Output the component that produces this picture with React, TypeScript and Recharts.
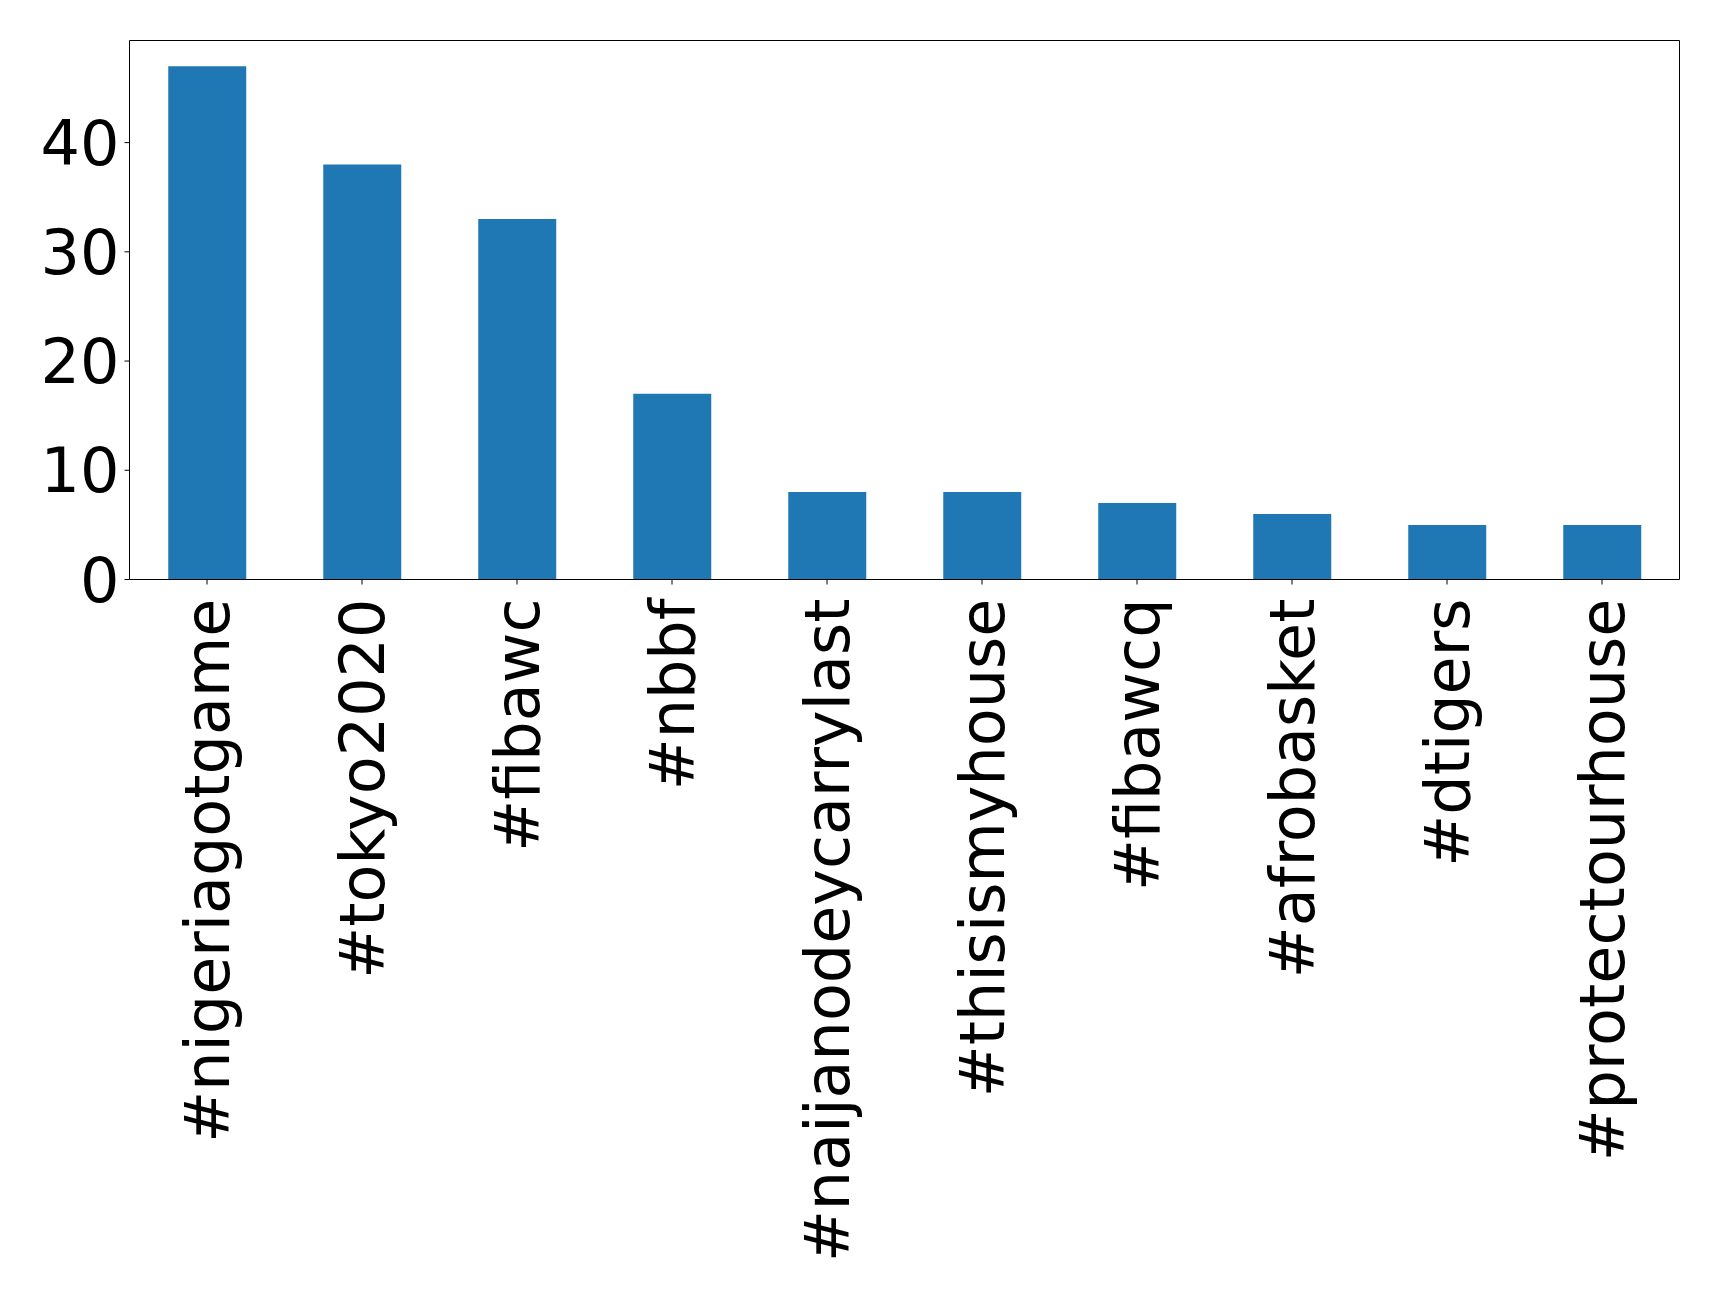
import React from "react";
import { Bar, BarChart, CartesianGrid, XAxis, YAxis } from "recharts";

const hashtags = [
  "#nigeriagotgame",
  "#tokyo2020",
  "#fibawc",
  "#nbbf",
  "#naijanodeycarrylast",
  "#thisismyhouse",
  "#fibawcq",
  "#afrobasket",
  "#dtigers",
  "#protectourhouse",
];
const counts = [47, 38, 33, 17, 8, 8, 7, 6, 5, 5];
const yTicks = [0, 10, 20, 30, 40];

const data = hashtags.map((tag, i) => ({ tag, count: counts[i] }));

const FONT = "DejaVu Sans";

const RotatedTick = ({ x, y, payload }: any) => (
  <text
    transform={`translate(${x}, ${y}) rotate(-90)`}
    textAnchor="end"
    dy={22}
    fontFamily={FONT}
    fontSize={62}
    fill="#000"
  >
    {payload.value}
  </text>
);

const App = () => {
  return (
    <div style={{ position: "absolute", left: 0, top: 0, background: "#fff" }}>
      <BarChart
        width={1719}
        height={1297}
        data={data}
        margin={{ top: 40.5, right: 39.5, left: 0, bottom: 0 }}
        barCategoryGap="25%"
      >
        <CartesianGrid
          stroke="#000"
          strokeWidth={1}
          horizontalCoordinatesGenerator={({ offset }: any) => [offset.top]}
          verticalCoordinatesGenerator={({ offset }: any) => [
            offset.left + offset.width,
          ]}
        />
        <XAxis
          dataKey="tag"
          interval={0}
          height={717.5}
          axisLine={{ stroke: "#000" }}
          tickLine={{ stroke: "#000" }}
          tickSize={5}
          tickMargin={14}
          tick={<RotatedTick />}
        />
        <YAxis
          width={129.5}
          domain={[0, 49.35]}
          ticks={yTicks}
          axisLine={{ stroke: "#000" }}
          tickLine={{ stroke: "#000" }}
          tickSize={5}
          tickMargin={5}
          tick={{ fill: "#000", fontSize: 62, fontFamily: FONT }}
        />
        <Bar dataKey="count" fill="#1f77b4" isAnimationActive={false} />
      </BarChart>
    </div>
  );
};

export default App;
